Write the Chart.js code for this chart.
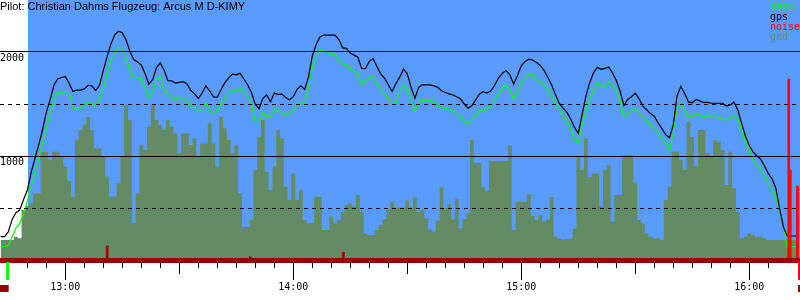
<!DOCTYPE html>
<html>
<head>
<meta charset="utf-8">
<script src="https://cdn.jsdelivr.net/npm/chart.js@4.4.1/dist/chart.umd.min.js"></script>
<style>
  html, body { margin: 0; padding: 0; background: #fff; }
</style>
</head>
<body>
<canvas id="baroChart" width="800" height="300"></canvas>
<script>
// sample times, one per minute
var times = [
  "12:43","12:44","12:45","12:46","12:47","12:48","12:49","12:50","12:51","12:52",
  "12:53","12:54","12:55","12:56","12:57","12:58","12:59","13:00","13:01","13:02",
  "13:03","13:04","13:05","13:06","13:07","13:08","13:09","13:10","13:11","13:12",
  "13:13","13:14","13:15","13:16","13:17","13:18","13:19","13:20","13:21","13:22",
  "13:23","13:24","13:25","13:26","13:27","13:28","13:29","13:30","13:31","13:32",
  "13:33","13:34","13:35","13:36","13:37","13:38","13:39","13:40","13:41","13:42",
  "13:43","13:44","13:45","13:46","13:47","13:48","13:49","13:50","13:51","13:52",
  "13:53","13:54","13:55","13:56","13:57","13:58","13:59","14:00","14:01","14:02",
  "14:03","14:04","14:05","14:06","14:07","14:08","14:09","14:10","14:11","14:12",
  "14:13","14:14","14:15","14:16","14:17","14:18","14:19","14:20","14:21","14:22",
  "14:23","14:24","14:25","14:26","14:27","14:28","14:29","14:30","14:31","14:32",
  "14:33","14:34","14:35","14:36","14:37","14:38","14:39","14:40","14:41","14:42",
  "14:43","14:44","14:45","14:46","14:47","14:48","14:49","14:50","14:51","14:52",
  "14:53","14:54","14:55","14:56","14:57","14:58","14:59","15:00","15:01","15:02",
  "15:03","15:04","15:05","15:06","15:07","15:08","15:09","15:10","15:11","15:12",
  "15:13","15:14","15:15","15:16","15:17","15:18","15:19","15:20","15:21","15:22",
  "15:23","15:24","15:25","15:26","15:27","15:28","15:29","15:30","15:31","15:32",
  "15:33","15:34","15:35","15:36","15:37","15:38","15:39","15:40","15:41","15:42",
  "15:43","15:44","15:45","15:46","15:47","15:48","15:49","15:50","15:51","15:52",
  "15:53","15:54","15:55","15:56","15:57","15:58","15:59","16:00","16:01","16:02",
  "16:03","16:04","16:05","16:06","16:07","16:08","16:09","16:10","16:11","16:12",
  "16:13"
];

var gps = [
  224,224,270,390,455,480,580,670,840,975,
  1105,1250,1420,1540,1680,1740,1755,1765,1700,1620,
  1634,1634,1645,1680,1675,1630,1680,1820,1955,2075,
  2165,2200,2185,2115,2005,1928,1903,1875,1790,1690,
  1735,1850,1895,1825,1725,1722,1700,1708,1714,1695,
  1630,1600,1553,1605,1675,1625,1568,1565,1640,1705,
  1750,1787,1781,1795,1740,1683,1610,1495,1455,1555,
  1586,1520,1605,1592,1595,1563,1540,1570,1640,1675,
  1640,1760,1960,2070,2145,2163,2163,2163,2163,2120,
  2040,2035,1990,1970,1950,1843,1840,1910,1939,1860,
  1790,1750,1685,1620,1695,1758,1835,1790,1660,1556,
  1660,1686,1683,1683,1675,1660,1627,1610,1597,1587,
  1570,1550,1500,1459,1485,1540,1596,1618,1605,1627,
  1680,1750,1795,1822,1780,1690,1775,1866,1907,1932,
  1922,1898,1870,1823,1755,1683,1590,1505,1460,1422,
  1355,1275,1218,1395,1575,1705,1800,1852,1833,1843,
  1855,1800,1725,1625,1485,1543,1570,1605,1550,1480,
  1445,1408,1382,1318,1263,1205,1175,1300,1580,1670,
  1600,1520,1512,1543,1530,1515,1515,1507,1507,1507,
  1507,1480,1490,1518,1440,1314,1190,1100,1040,1000,
  970,905,833,780,690,490,315,231,231,231,
  231
];

var baro = [
  128,128,140,220,305,350,440,565,715,845,
  975,1125,1265,1412,1535,1607,1604,1620,1620,1459,
  1459,1465,1490,1522,1508,1480,1545,1650,1795,1922,
  1997,2050,2010,1950,1815,1760,1752,1740,1650,1555,
  1630,1742,1758,1640,1597,1562,1545,1565,1560,1537,
  1472,1464,1425,1435,1507,1450,1411,1437,1505,1560,
  1605,1630,1620,1650,1615,1565,1495,1330,1335,1415,
  1378,1376,1456,1435,1418,1398,1408,1442,1494,1516,
  1492,1660,1845,1970,2018,2010,2000,1980,1971,1920,
  1885,1876,1845,1815,1798,1683,1705,1760,1760,1693,
  1642,1593,1554,1512,1505,1620,1678,1640,1535,1430,
  1524,1538,1538,1534,1525,1480,1467,1458,1449,1433,
  1405,1375,1335,1315,1348,1390,1442,1442,1452,1483,
  1533,1600,1655,1680,1635,1545,1620,1700,1748,1792,
  1783,1735,1712,1690,1634,1570,1507,1452,1380,1344,
  1265,1157,1130,1290,1430,1545,1637,1690,1680,1665,
  1710,1690,1625,1535,1370,1415,1435,1460,1420,1366,
  1340,1296,1275,1225,1170,1120,1050,1234,1450,1510,
  1430,1375,1385,1408,1394,1365,1392,1382,1372,1364,
  1354,1346,1370,1390,1352,1250,1140,1050,965,910,
  873,810,737,668,595,470,320,128,128,128,
  128
];

var gnd = [
  192,192,192,192,224,208,481,520,545,641,
  641,1042,1042,962,1042,1042,1000,900,760,609,
  1154,1250,1300,1378,1250,1074,1074,1000,801,609,
  609,737,993,1490,1346,353,641,1106,1058,1282,
  1490,1346,1298,1250,1346,1282,1218,1026,1218,1218,
  1106,1170,993,1122,1122,1314,1122,897,1378,1266,
  1154,1026,1106,641,320,320,385,865,1186,1346,
  849,673,897,1250,1170,705,577,833,577,673,
  385,353,353,609,609,288,288,416,353,385,
  465,529,545,513,625,465,257,240,240,288,
  340,391,481,561,506,506,506,570,506,603,
  465,487,401,295,272,378,699,497,535,391,
  583,305,391,449,1154,936,936,699,666,955,
  955,955,955,955,1100,288,561,561,561,635,
  423,385,430,369,390,609,224,208,199,199,
  205,304,993,865,1170,801,833,833,513,865,
  913,369,625,625,1010,1010,1010,737,385,353,
  257,224,208,208,192,577,705,1042,1042,962,
  865,1330,1186,900,1250,1250,1026,993,1154,1138,
  1058,720,1042,690,465,208,224,257,240,224,
  224,208,192,192,192,192,192,192,192,192,
  192
];

var noiseTimes = ["13:11:02", "13:48:41", "14:13:10", "16:10:24", "16:10:47", "16:12:40"];
var noiseValues = [135, 30, 74, 1740, 865, 711];

var yLabels = [1000, 2000];
var pilotLine = "Pilot: Christian Dahms Flugzeug: Arcus M D-KIMY";
var viewStart = "12:42:49";
var viewEnd = "16:13:21";
var skyStart = "12:50:10";
var takeoff = "12:44:50";
var landing = "16:13:05";

var colors = {
  baro: "#00ff00",
  gps: "#000000",
  noise: "#ff0000",
  gnd: "#648c64",
  sky: "#5a9bff",
  band: "#990000"
};

function toMin(s) {
  var p = s.split(":").map(Number);
  return p[0] * 60 + p[1] + (p[2] || 0) / 60 - 720;
}

function pts(values) {
  return values.map(function (v, i) { return { x: toMin(times[i]), y: v }; });
}

var mono = "'DejaVu Sans Mono', monospace";

var barogramDecor = {
  id: "barogramDecor",
  beforeDatasetsDraw: function (chart) {
    var ctx = chart.ctx, a = chart.chartArea, xs = chart.scales.x;
    var left = xs.getPixelForValue(toMin(skyStart));
    ctx.save();
    ctx.fillStyle = colors.sky;
    ctx.fillRect(left, a.top, a.right - left, a.bottom - a.top);
    ctx.restore();
  },
  afterDraw: function (chart) {
    var ctx = chart.ctx, a = chart.chartArea, xs = chart.scales.x;
    ctx.save();
    // time ticks under the ground band
    ctx.strokeStyle = "#000";
    ctx.lineWidth = 1;
    xs.ticks.forEach(function (t) {
      var v = t.value;
      if (Math.abs(v / 5 - Math.round(v / 5)) > 1e-6) return;
      var len = (Math.round(v) % 60 === 0) ? 20 : (Math.round(v) % 30 === 0 ? 14 : 8);
      var px = Math.round(xs.getPixelForValue(v)) + 0.5;
      ctx.beginPath();
      ctx.moveTo(px, a.bottom + 2);
      ctx.lineTo(px, a.bottom + len);
      ctx.stroke();
    });
    // takeoff / landing markers
    var tx = xs.getPixelForValue(toMin(takeoff));
    var lx = xs.getPixelForValue(toMin(landing));
    ctx.fillStyle = colors.baro;
    ctx.fillRect(tx - 1.5, a.bottom + 2, 3, 18);
    ctx.fillStyle = colors.noise;
    ctx.fillRect(lx - 1, a.bottom + 2, 3, 18);
    ctx.fillStyle = colors.band;
    ctx.fillRect(a.left, a.bottom + 25, tx + 1 - a.left, 7);
    ctx.fillRect(lx - 1, a.bottom + 25, a.right - lx + 1, 7);
    // title
    ctx.fillStyle = "#000";
    ctx.font = "11px 'Liberation Sans', Arial, sans-serif";
    ctx.textBaseline = "alphabetic";
    ctx.textAlign = "left";
    ctx.fillText(pilotLine, 0, 10);
    // series key
    ctx.font = "10px " + mono;
    ["baro", "gps", "noise", "gnd"].forEach(function (k, i) {
      ctx.fillStyle = colors[k];
      ctx.fillText(k, 770, 10 + i * 10);
    });
    ctx.restore();
  }
};

new Chart("baroChart", {
  type: "line",
  data: {
    datasets: [{
      label: "gnd",
      data: pts(gnd),
      stepped: "middle",
      fill: "origin",
      backgroundColor: colors.gnd,
      borderWidth: 0,
      pointRadius: 0,
      order: 3
    }, {
      label: "baro",
      data: pts(baro),
      borderColor: colors.baro,
      borderWidth: 1.2,
      pointRadius: 0,
      fill: false,
      order: 2
    }, {
      label: "gps",
      data: pts(gps),
      borderColor: colors.gps,
      borderWidth: 1.2,
      pointRadius: 0,
      fill: false,
      order: 1
    }, {
      type: "bar",
      label: "noise",
      data: noiseTimes.map(function (t, i) { return { x: toMin(t), y: noiseValues[i] }; }),
      barThickness: 2,
      backgroundColor: function (c) { return c.raw && c.raw.y > 500 ? colors.noise : colors.band; },
      order: 0
    }]
  },
  options: {
    responsive: false,
    animation: false,
    layout: { padding: { left: 0, right: 0, top: 0, bottom: 5 } },
    plugins: { legend: { display: false }, tooltip: { enabled: false } },
    scales: {
      x: {
        type: "linear",
        min: toMin(viewStart),
        max: toMin(viewEnd),
        offset: false,
        afterFit: function (scale) { scale.paddingLeft = 0; scale.paddingRight = 0; },
        grid: { drawOnChartArea: false, tickLength: 19, tickColor: "rgba(0,0,0,0)" },
        border: { color: colors.band, width: 5, z: 1 },
        ticks: {
          stepSize: 5,
          autoSkip: false,
          maxRotation: 0,
          padding: 2,
          color: "#000",
          font: { family: mono, size: 10 },
          callback: function (v) {
            if (Math.abs(v % 60) > 1e-6) return "";
            return (12 + v / 60) + ":00";
          }
        }
      },
      y: {
        min: 0,
        max: 2500,
        afterFit: function (scale) {
          scale.width = 0;
          scale.paddingTop = 0;
          scale.paddingBottom = 0;
        },
        grid: {
          z: 1,
          drawTicks: false,
          color: function (c) {
            var v = c.tick.value;
            return (v > 0 && v < 2500) ? "#000" : "rgba(0,0,0,0)";
          }
        },
        border: {
          display: false,
          dash: function (c) { return c.tick && c.tick.value % 1000 !== 0 ? [4, 4] : []; }
        },
        ticks: {
          stepSize: 500,
          mirror: true,
          padding: 0,
          labelOffset: 6,
          z: 1,
          color: "#000",
          font: { family: mono, size: 10 },
          callback: function (v) { return yLabels.indexOf(v) >= 0 ? String(v) : ""; }
        }
      }
    }
  },
  plugins: [barogramDecor]
});
</script>
</body>
</html>
